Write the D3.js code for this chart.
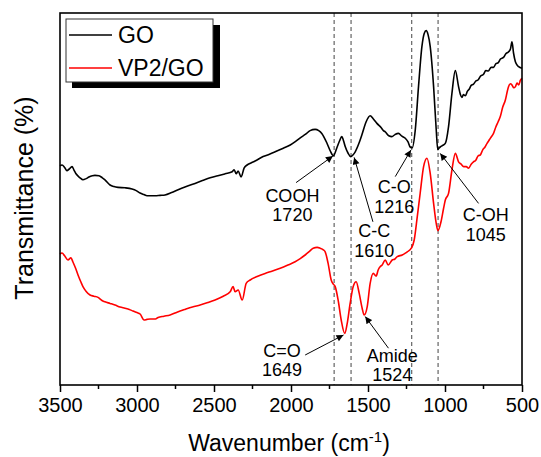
<!DOCTYPE html>
<html><head><meta charset="utf-8">
<script src="https://cdn.jsdelivr.net/npm/d3@7"></script>
<style>
body{margin:0;background:#fff;}
svg{font-family:Arial,"Liberation Sans",sans-serif;}
</style></head>
<body><svg id="c" width="541" height="457"></svg>
<script>
// ---- data ----
const xTicks = [3500, 3000, 2500, 2000, 1500, 1000, 500];
const xMinorTicks = [3250, 2750, 2250, 1750, 1250, 750];
const markerLines = [1720, 1610, 1216, 1045];
const seriesNames = ["GO", "VP2/GO"];
const seriesColors = ["#000000", "#ff0000"];

// GO spectrum: [wavenumber, transmittance (a.u.)]
const goSpectrum = [
 [3500,54.8],[3487,55.0],[3470,54.4],[3455,53.6],[3440,54.0],[3422,54.6],[3410,53.8],[3396,52.8],[3370,51.8],[3351,51.3],
 [3330,51.6],[3312,52.0],[3290,52.3],[3273,52.4],[3247,52.3],[3225,51.8],[3208,51.3],[3175,50.0],[3150,49.6],[3123,49.4],
 [3078,49.3],[3032,49.0],[3005,48.6],[2980,48.0],[2955,47.6],[2935,47.3],[2883,47.3],[2850,47.4],[2818,47.5],[2775,48.1],
 [2733,48.8],[2680,49.6],[2623,50.4],[2575,51.1],[2525,51.8],[2475,52.3],[2428,52.8],[2382,53.3],[2369,53.8],[2356,52.8],
 [2343,53.5],[2324,52.0],[2304,54.3],[2285,55.0],[2260,55.5],[2233,56.0],[2181,57.1],[2140,57.7],[2103,58.3],[2050,59.2],
 [2005,60.0],[1970,60.9],[1940,61.8],[1905,62.7],[1876,63.6],[1843,63.9],[1820,63.6],[1800,62.9],[1767,60.5],[1745,58.5],
 [1725,57.3],[1702,59.3],[1685,61.0],[1670,62.1],[1660,61.2],[1648,59.6],[1630,58.0],[1612,57.1],[1598,57.5],[1583,58.3],
 [1560,60.3],[1540,62.5],[1512,65.8],[1486,67.3],[1465,66.5],[1442,65.4],[1414,64.3],[1400,63.6],[1388,63.3],[1365,62.3],
 [1345,62.1],[1325,62.6],[1302,62.9],[1280,62.2],[1258,61.7],[1240,60.8],[1226,59.5],[1213,59.3],[1193,63.8],[1172,74.6],
 [1150,84.6],[1135,87.9],[1122,88.6],[1110,87.6],[1096,84.6],[1074,74.6],[1057,63.8],[1047,58.8],[1040,59.2],[1031,59.5],
 [1020,59.8],[998,60.4],[977,64.6],[955,72.9],[933,78.6],[912,74.6],[900,72.6],[890,71.9],[880,72.6],[868,72.3],
 [855,73.4],[842,74.0],[830,74.9],[815,75.2],[800,76.0],[784,76.3],[770,77.2],[750,77.7],[735,78.6],[719,78.5],
 [700,79.4],[685,79.4],[670,80.3],[654,80.6],[640,81.5],[620,81.9],[605,82.8],[587,83.3],[575,84.0],[565,85.8],
 [555,83.0],[543,80.8],[530,79.9],[522,79.6],[500,79.2]
];

// VP2/GO spectrum: [wavenumber, transmittance (a.u.)]
const vpSpectrum = [
 [3500,32.75],[3487,33.0],[3470,32.3],[3448,31.25],[3429,31.8],[3416,30.75],[3400,29.3],[3383,27.5],[3365,25.8],[3351,24.6],
 [3330,23.4],[3305,22.5],[3280,22.2],[3253,21.9],[3230,21.2],[3208,20.8],[3175,20.4],[3143,20.0],[3110,19.5],[3078,19.2],
 [3050,18.9],[3026,18.5],[3000,18.1],[2980,17.75],[2954,16.25],[2935,16.4],[2915,16.5],[2880,16.5],[2863,16.9],[2825,17.2],
 [2785,17.5],[2740,18.2],[2688,18.9],[2640,19.5],[2590,20.0],[2540,20.6],[2493,21.25],[2440,22.2],[2395,23.3],[2376,24.6],
 [2363,23.3],[2343,23.75],[2317,21.25],[2291,25.4],[2265,26.25],[2220,27.1],[2168,27.9],[2120,28.5],[2070,29.2],[2020,30.0],
 [1973,30.8],[1940,31.6],[1908,32.5],[1880,33.4],[1856,34.2],[1830,34.4],[1811,34.2],[1790,33.8],[1778,33.3],[1759,30.4],
 [1739,26.25],[1725,25.2],[1713,24.6],[1694,21.25],[1674,16.25],[1651,12.9],[1635,15.4],[1616,20.4],[1596,24.6],[1577,25.8],
 [1557,22.9],[1538,19.2],[1525,17.5],[1505,19.6],[1486,25.4],[1466,27.9],[1447,27.25],[1434,28.75],[1420,29.6],[1408,30.0],
 [1388,31.25],[1369,30.0],[1343,31.25],[1325,31.5],[1310,32.1],[1278,32.5],[1260,32.9],[1245,33.3],[1219,34.2],[1200,36.25],
 [1180,42.1],[1161,48.0],[1139,54.6],[1117,56.7],[1096,52.9],[1074,45.4],[1057,40.4],[1046,38.6],[1026,40.8],[1010,44.0],
 [998,46.25],[977,47.9],[955,53.75],[933,57.9],[912,55.8],[895,55.2],[879,54.6],[862,54.6],[847,54.2],[830,55.2],
 [815,55.8],[800,56.2],[785,57.3],[771,57.5],[755,58.8],[740,59.5],[727,60.4],[712,61.3],[700,62.0],[685,62.9],
 [670,64.5],[655,65.8],[641,67.1],[625,69.5],[608,71.25],[595,73.5],[587,74.6],[575,75.3],[565,75.0],[553,74.3],
 [543,74.6],[532,75.5],[522,75.0],[510,76.2],[500,76.7]
];

// annotations: label lines, text anchor point [wn, value], arrow start & tip [wn, value]
const annLabels = [["COOH","1720"],["C-C","1610"],["C-O","1216"],["C-OH","1045"],["C=O","1649"],["Amide","1524"]];
const annTextPos = [[1991,45.8],[1460,37.0],[1330,47.9],[735,41.0],[2059,7.1],[1343,5.8]];
const annArrowFrom = [[1967,50.6],[1468,40.8],[1323,52.1],[782,45.4],[1908,7.5],[1367,9.2]];
const annArrowTo = [[1728,57.25],[1590,56.9],[1221,58.75],[1031,57.9],[1659,12.5],[1518,17.1]];

// ---- layout ----
const svg = d3.select("#c");
const M = {left:60, right:522, top:13, bottom:385};
const x = d3.scaleLinear().domain([3500,500]).range([M.left, M.right]);
const y = d3.scaleLinear().domain([0,93]).range([M.bottom, M.top]);

// dashed lines
svg.append("g").selectAll("line").data(markerLines).join("line")
  .attr("x1", d=>x(d)).attr("x2", d=>x(d))
  .attr("y1", M.top).attr("y2", M.bottom)
  .attr("stroke","#444").attr("stroke-width",1).attr("stroke-dasharray","4,3");

// curves
const line = d3.line().x(d=>x(d[0])).y(d=>y(d[1])).curve(d3.curveMonotoneX);
[goSpectrum, vpSpectrum].forEach((s,i)=>{
  svg.append("path").datum(s).attr("d", line)
    .attr("fill","none").attr("stroke", seriesColors[i]).attr("stroke-width",1.6)
    .attr("stroke-linejoin","round");
});

// frame
svg.append("rect").attr("x",M.left).attr("y",M.top)
  .attr("width",M.right-M.left).attr("height",M.bottom-M.top)
  .attr("fill","none").attr("stroke","#000").attr("stroke-width",1.6);

// x axis
const xAxis = d3.axisBottom(x).tickValues(xTicks).tickSize(7).tickSizeOuter(0).tickPadding(6).tickFormat(d3.format("d"));
const gx = svg.append("g").attr("transform",`translate(0,${M.bottom})`).call(xAxis);
gx.select(".domain").remove();
gx.selectAll(".tick line").attr("stroke-width",1.5);
gx.selectAll(".tick text").attr("font-size",20).attr("font-family","Arial, 'Liberation Sans', sans-serif").attr("fill","#000");
svg.append("g").attr("transform",`translate(0,${M.bottom})`).selectAll("line").data(xMinorTicks).join("line")
  .attr("x1",d=>x(d)).attr("x2",d=>x(d)).attr("y1",0).attr("y2",4)
  .attr("stroke","#000").attr("stroke-width",1.5);

// axis titles
const xt = svg.append("text").attr("x",289).attr("y",451).attr("text-anchor","middle").attr("font-size",23);
xt.append("tspan").text("Wavenumber (cm");
xt.append("tspan").attr("font-size",15).attr("dy",-9).text("-1");
xt.append("tspan").attr("dy",9).text(")");
svg.append("text").attr("transform","translate(33,198) rotate(-90)").attr("text-anchor","middle")
  .attr("font-size",25).text("Transmittance (%)");

// arrow marker
svg.append("defs").append("marker").attr("id","ah").attr("viewBox","0 0 10 10")
  .attr("refX",10).attr("refY",5).attr("markerWidth",9).attr("markerHeight",7)
  .attr("markerUnits","userSpaceOnUse").attr("orient","auto")
  .append("path").attr("d","M0,0 L10,5 L0,10 Z").attr("fill","#000");

// annotations
annLabels.forEach((lab,i)=>{
  lab.forEach((s,j)=>{
    svg.append("text").attr("text-anchor","middle").attr("font-size",18)
      .attr("x", x(annTextPos[i][0])).attr("y", y(annTextPos[i][1]) + j*19.5)
      .text(s);
  });
  svg.append("line")
    .attr("x1", x(annArrowFrom[i][0])).attr("y1", y(annArrowFrom[i][1]))
    .attr("x2", x(annArrowTo[i][0])).attr("y2", y(annArrowTo[i][1]))
    .attr("stroke","#000").attr("stroke-width",1).attr("marker-end","url(#ah)");
});

// legend
const lg = svg.append("g");
lg.append("rect").attr("x",72).attr("y",25).attr("width",148).attr("height",63).attr("fill","#000");
lg.append("rect").attr("x",66).attr("y",19).attr("width",147).attr("height",63)
  .attr("fill","#fff").attr("stroke","#333").attr("stroke-width",1);
seriesNames.forEach((n,i)=>{
  const yy = 35 + i*33;
  lg.append("line").attr("x1",69).attr("x2",112).attr("y1",yy).attr("y2",yy)
    .attr("stroke",seriesColors[i]).attr("stroke-width",1.6);
  lg.append("text").attr("x",118).attr("y",yy+8).attr("font-size",23).text(n);
});
</script></body></html>
